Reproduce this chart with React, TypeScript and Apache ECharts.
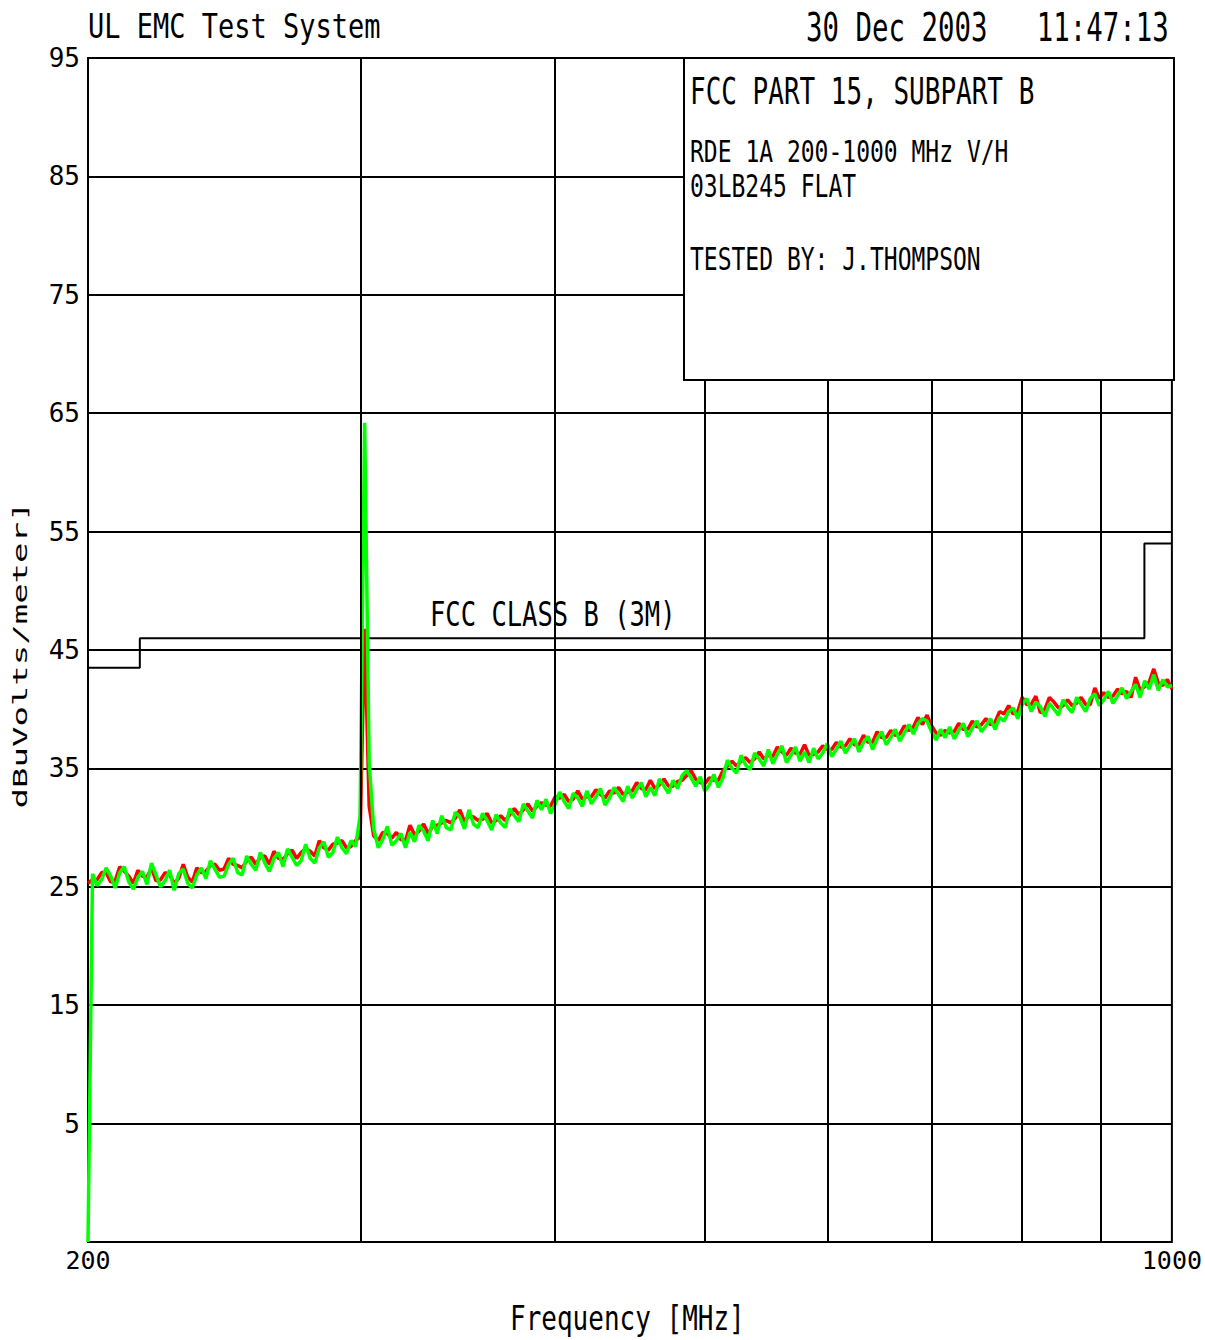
import React, { useEffect, useRef } from "react";
import * as echarts from "echarts";

// Sweep definition (log-spaced points across the plot)
const F_START = 200;
const F_STOP = 1000;

// Y-axis ticks / labels
const Y_MIN = -5;
const Y_MAX = 95;
const Y_STEP = 10;

// Vertical grid frequencies (MHz)
const xGridFreqs = [300, 400, 500, 600, 700, 800, 900];

// FCC Class B (3 m) limit line
const limitFreqs = [200, 216, 216, 960, 960, 1000];
const limitLevels = [43.5, 43.5, 46, 46, 54, 54];

// Measured levels (dBuV/m), red trace
const redLevels = [
  25.3, 25.6, 25.6, 26.2, 26.2, 25.4, 25.5, 26.7, 26.3, 25.9,
  25.3, 26.4, 25.9, 25.8, 26.6, 25.5, 25.6, 26.2, 26.0, 25.3,
  25.7, 26.9, 25.8, 25.4, 26.6, 26.2, 26.3, 26.8, 26.9, 26.4,
  26.5, 27.4, 26.9, 26.8, 26.6, 27.2, 27.5, 26.9, 27.5, 27.6,
  26.9, 28.0, 27.4, 27.3, 27.8, 28.1, 27.4, 27.9, 28.2, 28.0,
  27.6, 28.9, 28.3, 28.1, 28.6, 28.7, 28.9, 28.3, 28.4, 28.9,
  29.2, 46.8, 31.8, 29.3, 28.9, 29.6, 29.5, 29.1, 29.6, 29.0,
  28.9, 30.2, 29.4, 29.7, 30.3, 29.5, 30.1, 30.2, 30.4, 30.6,
  30.4, 30.8, 31.5, 30.5, 31.0, 30.9, 30.6, 30.7, 31.2, 30.4,
  30.6, 31.0, 30.6, 31.1, 31.6, 31.1, 31.5, 32.0, 31.4, 31.8,
  32.1, 31.9, 31.8, 32.6, 32.5, 32.8, 32.2, 32.4, 33.1, 32.4,
  32.6, 32.6, 33.2, 32.8, 32.5, 33.1, 32.9, 33.4, 32.8, 33.0,
  33.1, 33.8, 33.3, 33.2, 34.0, 33.3, 33.6, 34.1, 33.5, 33.5,
  33.9, 34.0, 34.4, 34.8, 34.1, 33.8, 33.7, 34.2, 34.0, 34.0,
  34.8, 35.2, 35.6, 35.2, 35.6, 35.9, 35.5, 35.8, 36.4, 35.8,
  36.1, 36.0, 36.8, 36.4, 36.1, 36.7, 36.3, 36.2, 37.0, 36.1,
  36.2, 36.4, 36.9, 36.6, 36.6, 37.2, 36.8, 36.9, 37.5, 37.0,
  37.0, 37.8, 37.2, 37.2, 38.1, 37.6, 37.6, 38.2, 37.8, 37.9,
  38.6, 38.2, 38.5, 39.3, 38.7, 39.5, 38.6, 38.0, 37.8, 38.2,
  38.0, 38.1, 38.8, 38.3, 38.3, 39.0, 38.5, 38.7, 39.2, 38.7,
  38.9, 39.8, 39.6, 40.3, 39.6, 39.8, 41.0, 40.4, 40.4, 41.1,
  39.7, 40.0, 41.0, 40.6, 40.1, 40.3, 40.8, 40.3, 40.5, 41.0,
  40.4, 40.4, 41.8, 40.9, 41.4, 41.0, 41.1, 41.7, 41.3, 41.5,
  41.0, 42.7, 41.6, 41.9, 42.3, 43.4, 42.2, 42.0, 42.5, 41.7,
];

// Measured levels (dBuV/m), green trace
const greenLevels = [
  -5.0, 26.1, 25.1, 25.6, 26.6, 25.9, 24.9, 26.2, 26.7, 25.4,
  24.8, 25.8, 26.3, 25.2, 27.0, 26.0, 25.0, 25.5, 26.4, 24.7,
  26.1, 26.5, 25.3, 24.9, 26.0, 26.6, 25.7, 27.2, 26.5, 25.8,
  25.9, 26.9, 27.4, 26.2, 26.0, 27.6, 26.9, 26.4, 27.9, 27.0,
  26.3, 27.4, 27.9, 26.7, 28.2, 27.5, 26.8, 27.2, 28.6, 27.4,
  27.0, 28.3, 28.8, 27.5, 27.9, 29.2, 28.3, 27.8, 28.9, 28.4,
  31.0, 64.2, 35.5, 29.9, 28.3, 29.0, 30.1, 28.5, 28.9, 29.5,
  28.3, 29.6, 28.8, 30.2, 29.7, 28.9, 30.6, 29.5, 31.0, 30.0,
  29.8, 31.3, 30.9, 29.9, 31.5, 30.3, 30.0, 31.2, 30.6, 29.8,
  31.1, 30.4, 30.0, 31.6, 31.0, 30.5, 32.0, 31.4, 30.8, 32.3,
  31.5, 32.4, 31.2, 32.0, 33.0, 32.2, 31.6, 32.9, 32.5, 31.8,
  33.1, 32.0, 32.6, 33.3, 31.9, 32.5, 33.4, 32.8, 32.2, 33.5,
  32.5, 33.2, 33.8, 32.6, 33.4, 32.7, 34.1, 33.5, 32.9, 34.0,
  33.3, 34.4, 34.8, 34.2, 33.5, 34.3, 33.1, 33.6, 34.5, 33.4,
  34.2, 35.7, 35.0, 34.6, 36.1, 35.3, 34.9, 36.3, 35.8, 35.2,
  36.6, 35.4, 36.2, 36.9, 35.5, 36.1, 36.8, 35.6, 36.4, 35.5,
  36.7, 35.8, 36.3, 37.1, 36.0, 36.6, 37.3, 36.3, 36.9, 37.5,
  36.4, 37.2, 37.7, 36.6, 37.5, 38.1, 37.0, 37.6, 38.3, 37.3,
  38.0, 38.7, 37.9, 38.8, 39.2, 39.0, 38.1, 37.4, 38.3, 37.6,
  38.5, 37.5, 38.2, 38.8, 37.7, 38.4, 39.0, 38.1, 38.6, 39.2,
  38.3, 39.3, 39.0, 39.8, 40.1, 39.2, 40.4, 40.9, 39.8, 40.6,
  40.2, 39.4, 40.5, 40.0, 39.5, 40.8, 40.2, 39.7, 41.0, 40.4,
  39.8, 40.9, 41.3, 40.3, 40.8, 41.5, 40.5, 41.1, 41.8, 40.9,
  41.5, 42.1, 41.0, 42.4, 41.7, 42.9, 41.6, 42.5, 41.9, 42.0,
];

const titleText = "UL EMC Test System";
const dateText = "30 Dec 2003   11:47:13";
const infoLines = [
  "FCC PART 15, SUBPART B",
  "RDE 1A 200-1000 MHz V/H",
  "03LB245 FLAT",
  "TESTED BY: J.THOMPSON",
];
const limitName = "FCC CLASS B (3M)";
const xName = "Frequency [MHz]";
const yName = "dBuVolts/meter]";

const FONT = '"DejaVu Sans Mono", monospace';

function sweepFreqs(n: number): number[] {
  const out: number[] = [];
  for (let i = 0; i < n; i++) {
    out.push(F_START * Math.pow(F_STOP / F_START, i / (n - 1)));
  }
  return out;
}

function txt(
  text: string,
  x: number,
  y: number,
  fontSize: number,
  scaleY: number,
  extra: any = {}
) {
  return {
    type: "text",
    x,
    y,
    scaleY,
    z: 20,
    silent: true,
    style: {
      text,
      fill: "#000",
      fontSize,
      fontFamily: FONT,
      align: "left",
      verticalAlign: "middle",
    },
    ...extra,
  };
}

export default function App() {
  const ref = useRef<HTMLDivElement>(null);

  useEffect(() => {
    if (!ref.current) return;
    const chart = echarts.init(ref.current, null, { renderer: "svg" });
    const freqs = sweepFreqs(greenLevels.length);
    const redData = freqs.map((f, i) => [f, redLevels[i]]);
    const greenData = freqs.map((f, i) => [f, greenLevels[i]]);
    const limitData = limitFreqs.map((f, i) => [f, limitLevels[i]]);

    const option: any = {
      animation: false,
      backgroundColor: "#fff",
      grid: {
        left: 88,
        right: 31,
        top: 58,
        bottom: 98,
        show: true,
        borderColor: "#000",
        borderWidth: 2,
        backgroundColor: "transparent",
      },
      xAxis: {
        type: "log",
        logBase: 10,
        min: F_START,
        max: F_STOP,
        axisLine: { show: false },
        axisTick: { show: false },
        splitLine: { show: false },
        axisLabel: {
          color: "#000",
          fontFamily: FONT,
          fontSize: 25,
          margin: 6,
          formatter: (v: number) => String(Math.round(v)),
        },
      },
      yAxis: {
        type: "value",
        min: Y_MIN,
        max: Y_MAX,
        interval: Y_STEP,
        axisLine: { show: false },
        axisTick: { show: false },
        splitLine: { show: true, lineStyle: { color: "#000", width: 2 } },
        axisLabel: {
          color: "#000",
          fontFamily: FONT,
          fontSize: 26,
          margin: 8,
          showMinLabel: false,
          formatter: (v: number) => (Math.round(v) === Y_MIN ? "" : String(Math.round(v))),
        },
      },
      series: [
        {
          type: "line",
          name: "grid",
          data: [],
          silent: true,
          z: 1,
          markLine: {
            silent: true,
            symbol: ["none", "none"],
            label: { show: false },
            lineStyle: { color: "#000", width: 2, type: "solid" },
            data: xGridFreqs.map((f) => ({ xAxis: f })),
          },
        },
        {
          type: "line",
          name: "limit",
          data: limitData,
          showSymbol: false,
          symbol: "none",
          silent: true,
          lineStyle: { color: "#000", width: 2 },
          z: 2,
        },
        {
          type: "line",
          name: "red",
          data: redData,
          showSymbol: false,
          symbol: "none",
          silent: true,
          lineStyle: { color: "#ff0000", width: 3.5 },
          z: 3,
        },
        {
          type: "line",
          name: "green",
          data: greenData,
          showSymbol: false,
          symbol: "none",
          silent: true,
          lineStyle: { color: "#00ff00", width: 3.5 },
          z: 4,
        },
      ],
      graphic: [
        {
          type: "rect",
          z: 15,
          silent: true,
          shape: { x: 684, y: 58, width: 490, height: 322 },
          style: { fill: "#fff", stroke: "#000", lineWidth: 2 },
        },
        txt(titleText, 88, 26, 27, 1.27),
        txt(dateText, 806, 27, 27.4, 1.45),
        txt(infoLines[0], 690, 91.5, 26, 1.42),
        txt(infoLines[1], 690, 151, 23, 1.31),
        txt(infoLines[2], 690, 186.5, 23, 1.37),
        txt(infoLines[3], 690, 259.5, 23, 1.37),
        txt(limitName, 430, 615, 25.5, 1.29),
        txt(xName, 510, 1318, 26, 1.32),
        {
          type: "text",
          x: 20,
          y: 655,
          rotation: Math.PI / 2,
          scaleX: 1.7,
          z: 20,
          silent: true,
          style: {
            text: yName,
            fill: "#000",
            fontSize: 20,
            fontFamily: FONT,
            align: "center",
            verticalAlign: "middle",
          },
        },
      ],
    };
    chart.setOption(option);
    return () => chart.dispose();
  }, []);

  return (
    <div
      ref={ref}
      style={{ position: "absolute", left: 0, top: 0, width: 1205, height: 1340 }}
    />
  );
}
